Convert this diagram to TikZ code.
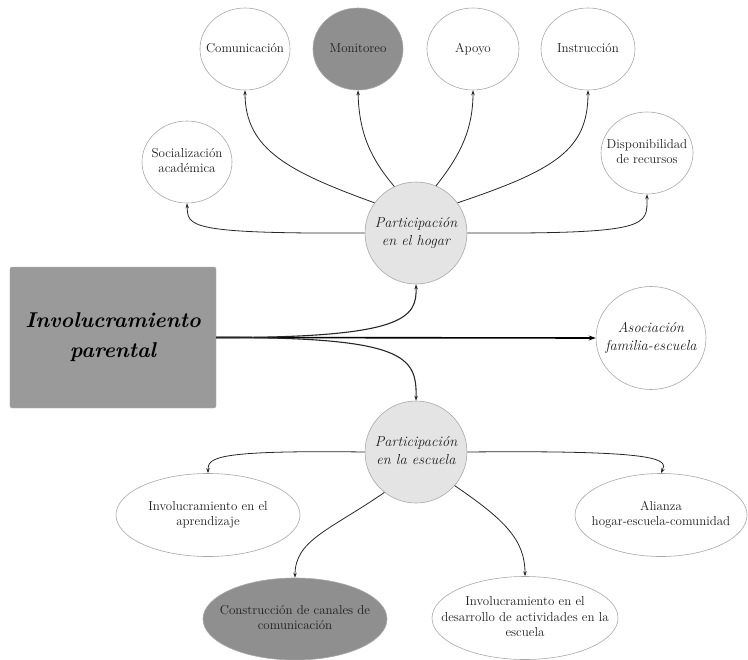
\documentclass[tikz,border=0pt]{standalone}
\usetikzlibrary{shapes.geometric,arrows.meta}
\definecolor{boxgray}{HTML}{9A9A9A}
\definecolor{darkfill}{HTML}{8F8F8F}
\definecolor{lightfill}{HTML}{E4E4E4}
\definecolor{edgegray}{HTML}{A8A8A8}
\definecolor{txt}{HTML}{1E1E1E}
\newcommand\lbl[1]{\makebox[0pt]{\begin{tabular}{@{}c@{}}#1\end{tabular}}}
\tikzset{
  leaf/.style={ellipse, draw=edgegray, line width=0.6bp, fill=white, inner sep=0pt,
    text=txt, font=\fontsize{13}{15.5}\selectfont},
  darkleaf/.style={leaf, fill=darkfill},
  hub/.style={circle, draw=edgegray, line width=0.6bp, fill=lightfill, inner sep=0pt, minimum size=102bp,
    text=txt, font=\fontsize{14.5}{18}\selectfont\itshape},
  conn/.style={draw=black!85, line width=0.8bp, -{Stealth[length=5bp,width=3.5bp]}},
  mainconn/.style={draw=black, line width=1.6bp, -{Stealth[length=7bp,width=5bp]}},
}
\begin{document}
\begin{tikzpicture}[x=1bp,y=-1bp]
\useasboundingbox (0,0) rectangle (748,660);
% main box
\node[draw=boxgray!80, fill=boxgray, rounded corners=2bp, minimum width=206bp, minimum height=141bp,
  inner sep=0pt, align=center, font=\fontsize{21.5}{30}\selectfont\bfseries\itshape] (ip) at (113,337.5)
  {Involucramiento\\parental};
% hubs
\node[hub] (hogar) at (416,233) {\lbl{Participación\\en el hogar}};
\node[hub] (escuela) at (416,452) {\lbl{Participación\\en la escuela}};
\node[leaf, minimum width=110bp, minimum height=103bp, font=\fontsize{14.5}{18}\selectfont\itshape] (asoc) at (651,338) {\lbl{Asociación\\familia-escuela}};
% upper leaves
\node[leaf, minimum width=90bp, minimum height=82bp] (comm) at (245,49) {\lbl{Comunicación}};
\node[darkleaf, minimum width=90bp, minimum height=82bp] (mon) at (358,49) {\lbl{Monitoreo}};
\node[leaf, minimum width=92bp, minimum height=82bp] (apoyo) at (473,49) {\lbl{Apoyo}};
\node[leaf, minimum width=94bp, minimum height=82bp] (instr) at (588,49) {\lbl{Instrucción}};
\node[leaf, minimum width=90bp, minimum height=82bp] (soc) at (187,162) {\lbl{Socialización\\académica}};
\node[leaf, minimum width=92bp, minimum height=82bp] (disp) at (647,153) {\lbl{Disponibilidad\\de recursos}};
% lower leaves
\node[leaf, minimum width=184bp, minimum height=83bp] (apr) at (208,515) {\lbl{Involucramiento en el\\aprendizaje}};
\node[leaf, minimum width=172bp, minimum height=83bp] (ali) at (661,515) {\lbl{Alianza\\hogar-escuela-comunidad}};
\node[darkleaf, minimum width=184bp, minimum height=82bp] (can) at (295,619) {\lbl{Construcción de canales de\\comunicación}};
\node[leaf, minimum width=186bp, minimum height=83bp] (des) at (525,618) {\lbl{Involucramiento en el\\desarrollo de actividades en la\\escuela}};
% main connectors
\draw[mainconn] (ip.east) -- (asoc.west);
\draw[conn, line width=1.1bp] (ip.east) .. controls (405,338) and (417,318) .. (hogar.south);
\draw[conn, line width=1.1bp] (ip.east) .. controls (405,337) and (417,356) .. (escuela.north);
% hogar connectors
\draw[conn] (hogar.west) .. controls (185,234) and (188,226) .. (soc.south);
\draw[conn] (hogar.144) .. controls (290,172) and (245,150) .. (comm.south);
\draw[conn] (hogar.115) .. controls (372,160) and (359,135) .. (mon.south);
\draw[conn] (hogar.67) .. controls (458,158) and (473,132) .. (apoyo.south);
\draw[conn] (hogar.36) .. controls (555,170) and (588,150) .. (instr.south);
\draw[conn] (hogar.east) .. controls (652,234) and (647,226) .. (disp.south);
% escuela connectors
\draw[conn] (escuela.west) .. controls (212,450) and (208,458) .. (apr.north);
\draw[conn] (escuela.east) .. controls (668,450) and (667,460) .. (ali.north);
\draw[conn] (escuela.232) .. controls (330,530) and (295,540) .. (can.north);
\draw[conn] (escuela.-41) .. controls (505,520) and (525,540) .. (des.north);
\end{tikzpicture}
\end{document}
